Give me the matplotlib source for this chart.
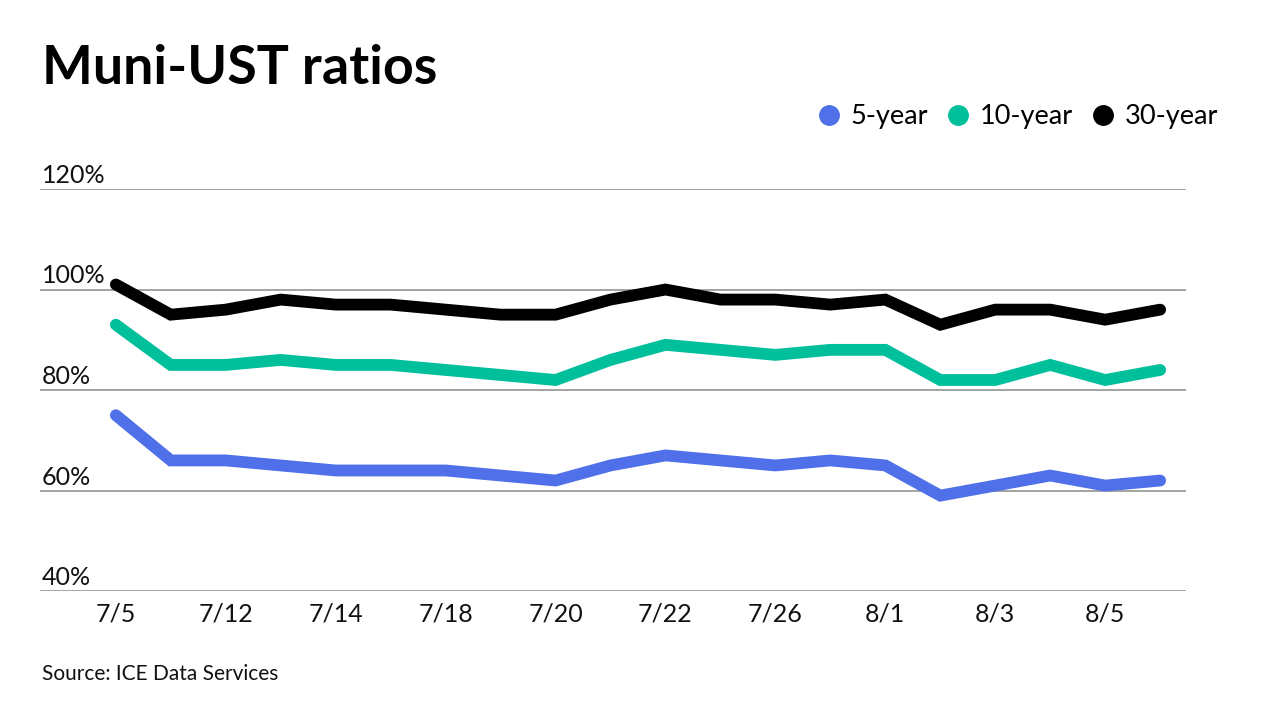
import matplotlib
matplotlib.use("Agg")
import matplotlib.pyplot as plt
from matplotlib.lines import Line2D

# ---- data ----
dates = ["7/5", "7/11", "7/12", "7/13", "7/14", "7/15", "7/18", "7/19", "7/20", "7/21",
         "7/22", "7/25", "7/26", "7/27", "8/1", "8/2", "8/3", "8/4", "8/5", "8/8"]
y5 = [75, 66, 66, 65, 64, 64, 64, 63, 62, 65, 67, 66, 65, 66, 65, 59, 61, 63, 61, 62]
y10 = [93, 85, 85, 86, 85, 85, 84, 83, 82, 86, 89, 88, 87, 88, 88, 82, 82, 85, 82, 84]
y30 = [101, 95, 96, 98, 97, 97, 96, 95, 95, 98, 100, 98, 98, 97, 98, 93, 96, 96, 94, 96]
series_names = ["5-year", "10-year", "30-year"]
colors = ["#4F70E8", "#00BF9B", "#000000"]
yticks = [40, 60, 80, 100, 120]

plt.rcParams['font.family'] = ['Lato', 'DejaVu Sans']

fig = plt.figure(figsize=(12.8, 7.2), dpi=100)
ax = fig.add_axes([0.03125, 0.179, 0.8953, 0.5585])

x = list(range(len(dates)))
for ys, c in zip([y5, y10, y30], colors):
    ax.plot(x, ys, color=c, lw=8.5, solid_capstyle='round', solid_joinstyle='miter', zorder=3)

ax.set_ylim(40, 120)
ax.set_xlim(-1.38, 19.47)
for s in ax.spines.values():
    s.set_visible(False)
for yv in yticks:
    ax.axhline(yv, color='#8a8a8a', lw=1.1, zorder=1)
    ax.text(0.0015, yv + 1.2, f"{yv}%", transform=ax.get_yaxis_transform(),
            ha='left', va='baseline', fontsize=18, color='#111111')
ax.set_yticks([])
ax.set_xticks(x[::2])
ax.set_xticklabels(dates[::2], fontsize=18, color='#111111')
ax.tick_params(axis='x', length=0, pad=8)

fig.text(0.033, 0.883, "Muni-UST ratios", fontsize=38.7, fontweight='bold', color='#000000',
         ha='left', va='baseline')
fig.text(0.033, 0.055, "Source: ICE Data Services", fontsize=15, color='#111111',
         ha='left', va='baseline')

handles = [Line2D([], [], marker='o', linestyle='none', markersize=14, markerfacecolor=c,
                  markeredgecolor=c) for c in colors]
fig.legend(handles, series_names, loc='center right', bbox_to_anchor=(0.971, 0.838),
           ncol=3, frameon=False, fontsize=19.5, handletextpad=0.25, columnspacing=0.57,
           handlelength=1.1)

fig.savefig("out.png", dpi=100)
